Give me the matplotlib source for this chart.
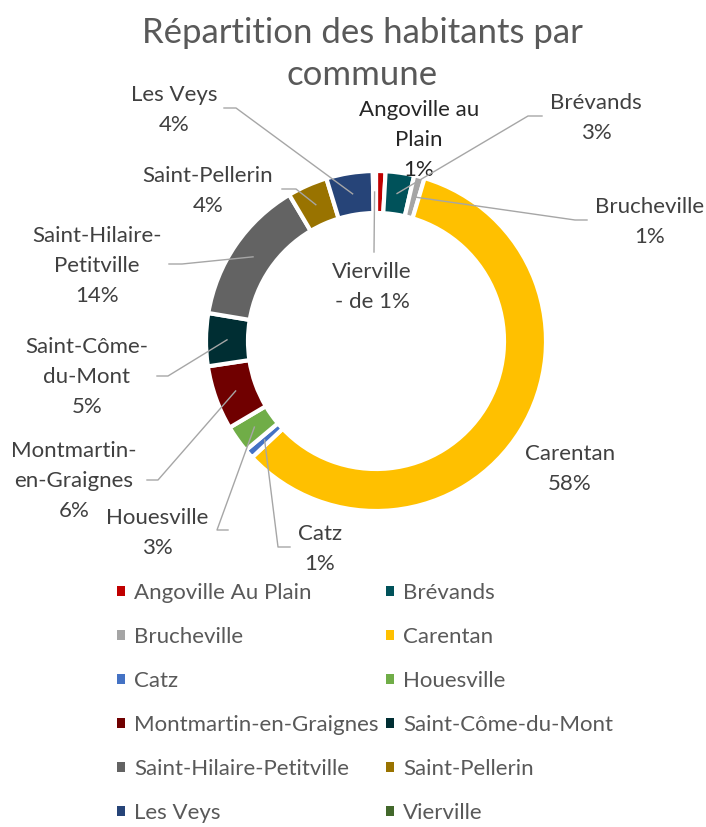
# -*- coding:utf-8 -*-
'''
Répartition des habitants par commune - anneau
'''
import matplotlib.pyplot as plt
from matplotlib.patches import Patch
import numpy as np

communes = ['Angoville Au Plain', 'Brévands', 'Brucheville', 'Carentan', 'Catz',
            'Houesville', 'Montmartin-en-Graignes', 'Saint-Côme-du-Mont',
            'Saint-Hilaire-Petitville', 'Saint-Pellerin', 'Les Veys', 'Vierville']
parts = [0.9, 2.7, 1.0, 58.2, 0.9, 2.6, 6.1, 5.0, 13.8, 3.8, 4.4, 0.3]
etiquettes = ['Angoville au\nPlain\n1%', 'Brévands\n3%', 'Brucheville\n1%', 'Carentan\n58%',
              'Catz\n1%', 'Houesville\n3%', 'Montmartin-\nen-Graignes\n6%',
              'Saint-Côme-\ndu-Mont\n5%', 'Saint-Hilaire-\nPetitville\n14%',
              'Saint-Pellerin\n4%', 'Les Veys\n4%', 'Vierville\n- de 1%']
couleurs = ['#C00000', '#00525A', '#A5A5A5', '#FFC000', '#4472C4', '#70AD47',
            '#700000', '#002E33', '#636363', '#997300', '#264478', '#43682B']

W, H = 706, 827
plt.rcParams['font.family'] = ['Lato', 'DejaVu Sans']

fig = plt.figure(figsize=(W / 100, H / 100), dpi=100)
ax = fig.add_axes([0, 0, 1, 1])

# centre et rayon en pixels (y vers le haut)
cx, cy, R = 376, H - 341, 170
largeur = 42

wedges, _ = ax.pie(parts, colors=couleurs, startangle=90, counterclock=False,
                   center=(cx, cy), radius=R,
                   wedgeprops=dict(width=largeur, edgecolor='white', linewidth=3))
ax.set_xlim(0, W)
ax.set_ylim(0, H)
ax.set_aspect('equal')
ax.axis('off')

# position des étiquettes (pixels, y vers le bas) et début des traits de rappel
pos_txt = [(419, 140), (596, 118), (650, 222), (570, 469), (320, 549), (157, 533),
           (74, 481), (87, 377), (97, 266), (208, 191), (174, 110), (372, 287)]
traits = [None, [(542, 116), (528, 116)], [(587, 220), (575, 220)], None,
          [(290, 547), (278, 547)], [(228, 530), (217, 530)],
          [(147, 480), (158, 480)], [(157, 376), (168, 376)],
          [(169, 264), (182, 264)], [(282, 189), (296, 189)],
          [(224, 108), (236, 108)], [(374, 252)]]

r_mid = R - largeur / 2
for w, txt, (tx, ty), tr, i in zip(wedges, etiquettes, pos_txt, traits, range(len(parts))):
    coul = '#262626' if i == 0 else '#404040'
    ax.text(tx, H - ty, txt, ha='center', va='center', fontsize=16,
            color=coul, linespacing=1.6)
    if tr is not None:
        ang = np.deg2rad((w.theta1 + w.theta2) / 2)
        ax_ = cx + r_mid * np.cos(ang)
        ay_ = cy + r_mid * np.sin(ang)
        xs = [p[0] for p in tr] + [ax_]
        ys = [H - p[1] for p in tr] + [ay_]
        ax.plot(xs, ys, color='#A6A6A6', lw=1, zorder=3)

fig.text(362 / W, 1 - 54 / H, 'Répartition des habitants par\ncommune', ha='center',
         va='center', fontsize=25, color='#595959', linespacing=1.35)

# légende sur deux colonnes, remplie ligne par ligne
ordre = list(range(0, 12, 2)) + list(range(1, 12, 2))
poignees = [Patch(facecolor=couleurs[k], edgecolor='none', label=communes[k]) for k in ordre]
fig.legend(handles=poignees, ncol=2, loc='upper left',
           bbox_to_anchor=(97 / W, 1 - 563 / H), frameon=False, fontsize=16,
           labelcolor='#595959', handlelength=0.36, handleheight=0.36,
           handletextpad=0.4, columnspacing=0.35, labelspacing=1.08)

fig.savefig('out.png', dpi=100)
